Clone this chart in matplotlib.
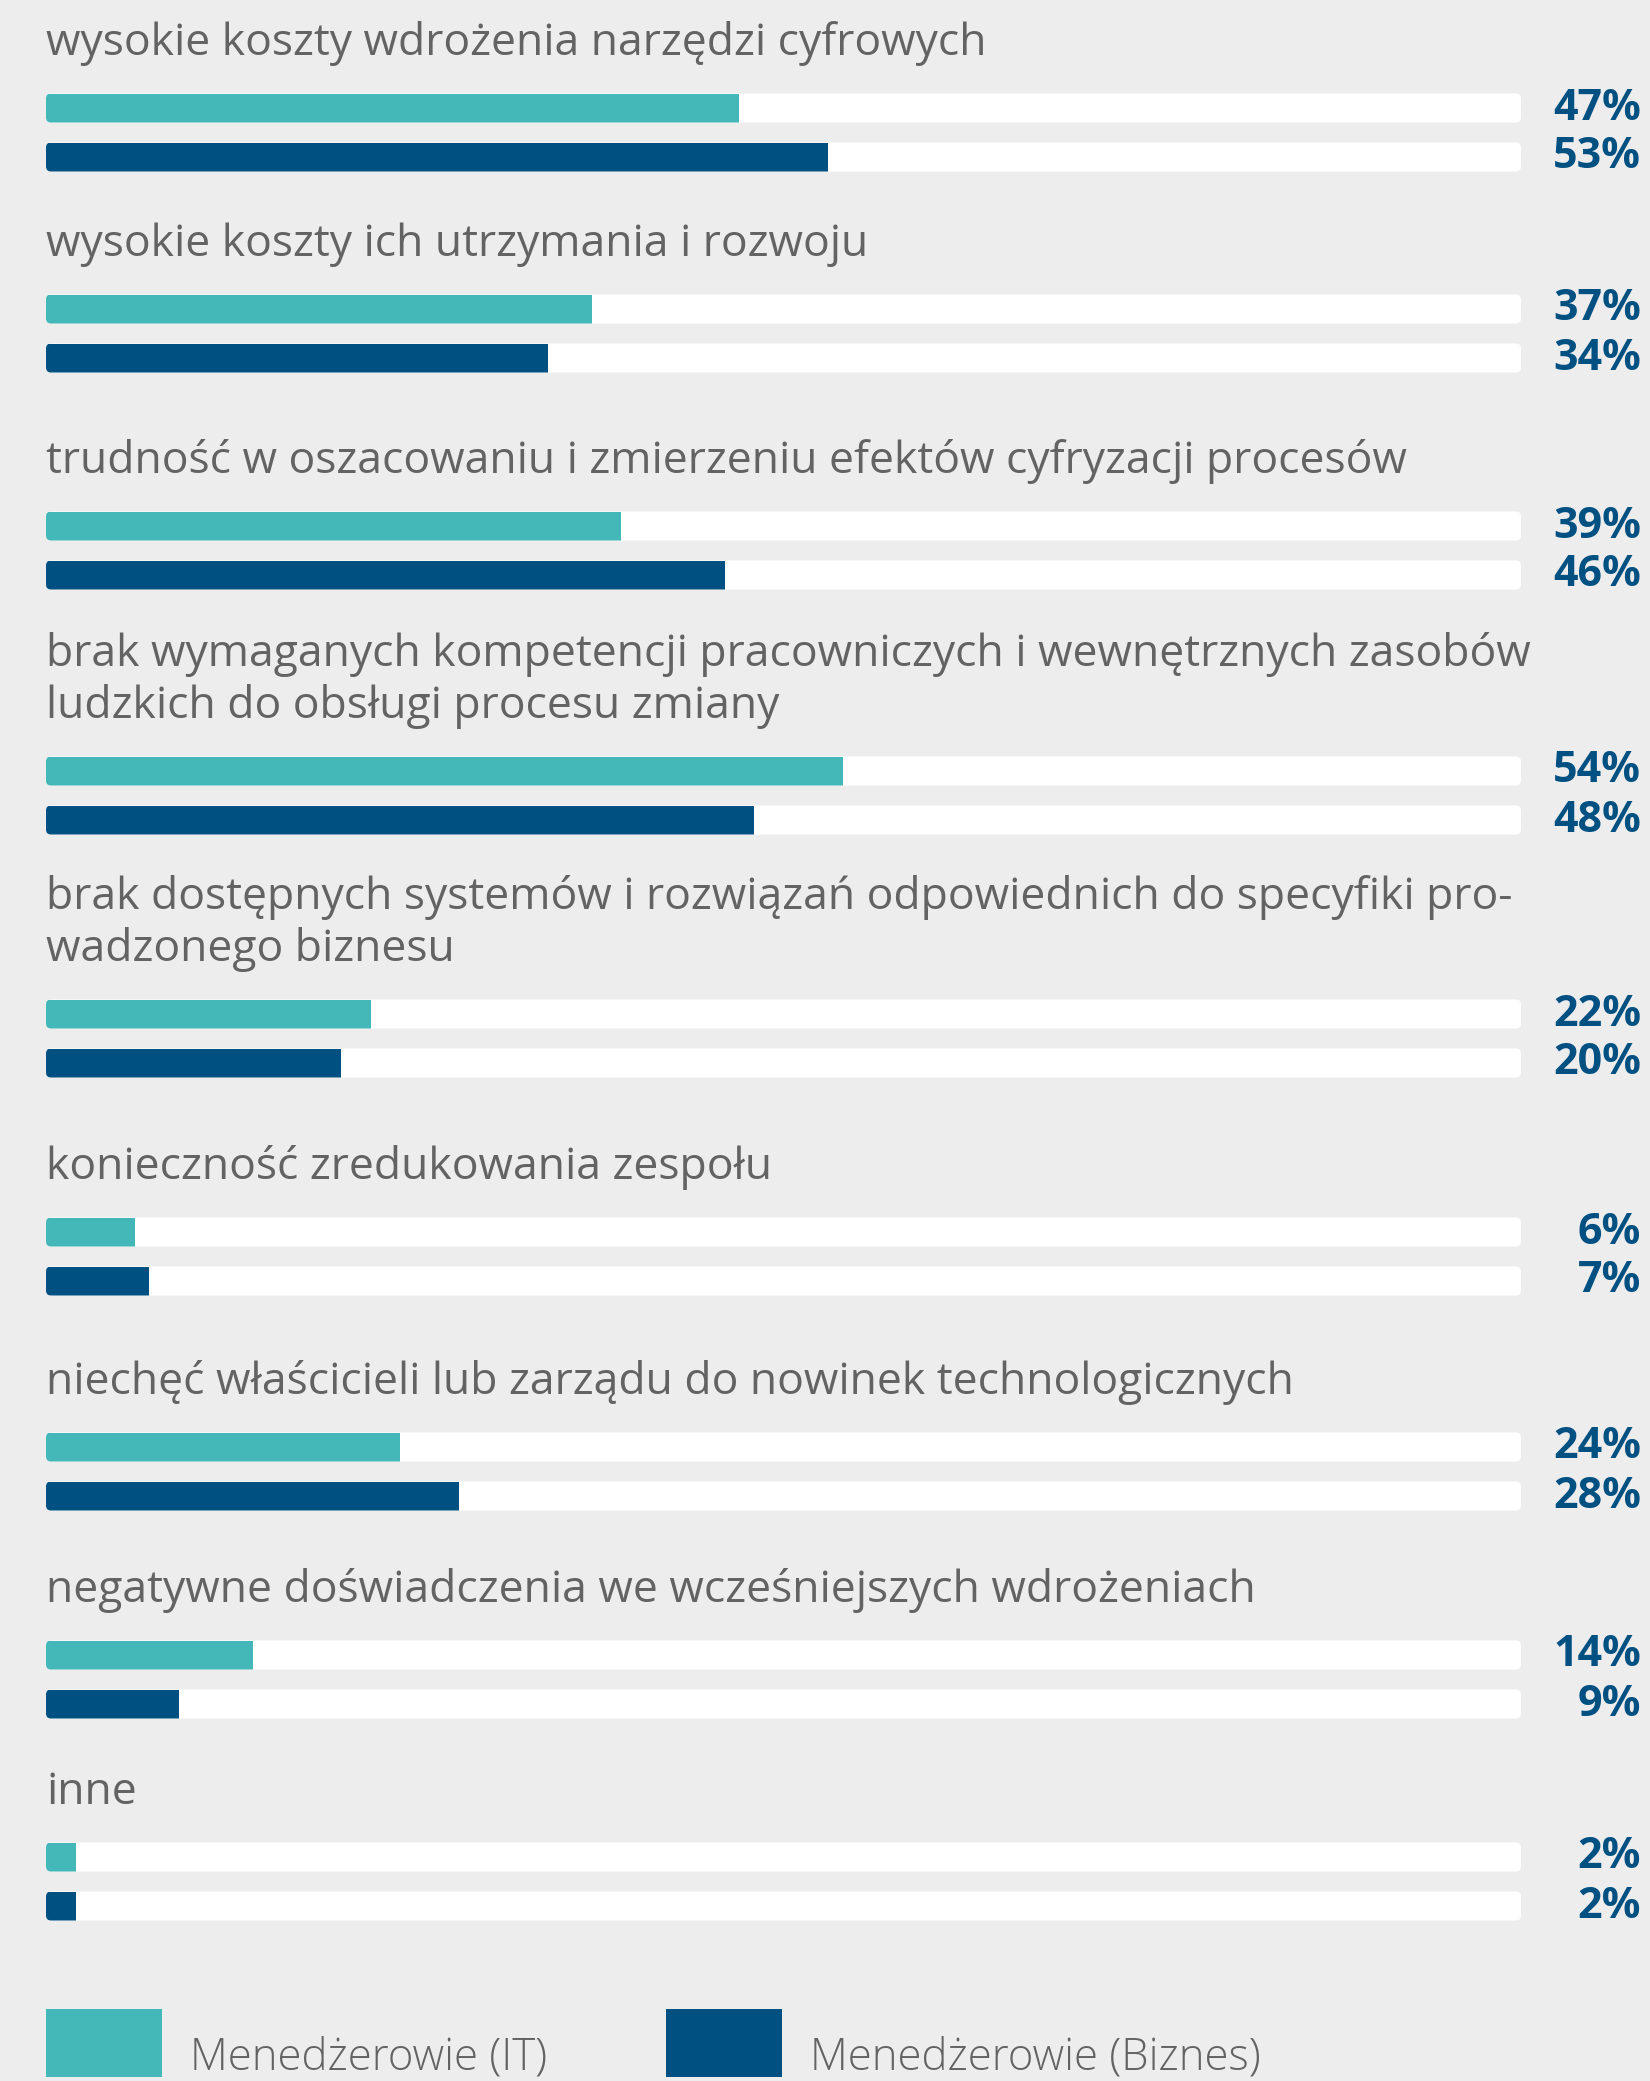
import matplotlib.pyplot as plt
from matplotlib.patches import FancyBboxPatch, Rectangle
from matplotlib.transforms import blended_transform_factory

plt.rcParams['font.family'] = ['Open Sans', 'DejaVu Sans']

# --- data ---
categories = [
    "wysokie koszty wdrożenia narzędzi cyfrowych",
    "wysokie koszty ich utrzymania i rozwoju",
    "trudność w oszacowaniu i zmierzeniu efektów cyfryzacji procesów",
    "brak wymaganych kompetencji pracowniczych i wewnętrznych zasobów\nludzkich do obsługi procesu zmiany",
    "brak dostępnych systemów i rozwiązań odpowiednich do specyfiki pro-\nwadzonego biznesu",
    "konieczność zredukowania zespołu",
    "niechęć właścicieli lub zarządu do nowinek technologicznych",
    "negatywne doświadczenia we wcześniejszych wdrożeniach",
    "inne",
]
it_values = [47, 37, 39, 54, 22, 6, 24, 14, 2]
biz_values = [53, 34, 46, 48, 20, 7, 28, 9, 2]
series_names = ["Menedżerowie (IT)", "Menedżerowie (Biznes)"]

TEAL = '#44b8b8'
NAVY = '#005082'
BG = '#ededed'
GREY = '#636363'

W, H = 1650, 2081
X0, XW = 46, 1475          # track left edge / width in px
fig = plt.figure(figsize=(W / 100, H / 100), dpi=100, facecolor=BG)
ax = fig.add_axes([X0 / W, 0, XW / W, 1])
ax.set_xlim(0, 100)
ax.set_ylim(H, 0)
ax.axis('off')

px_per_unit = XW / 100
bar_h = 29
pair_gap = 49
line_gap = 52

# layout: vertical distance between consecutive groups (px)
group_gaps = [201, 217, 245, 243, 218, 215, 208, 202]
centers = [108]
for g in group_gaps:
    centers.append(centers[-1] + g)

lab_tr = blended_transform_factory(fig.transFigure, ax.transData)

for i, cat in enumerate(categories):
    yc = centers[i]
    lines = cat.split('\n')
    for k, ln in enumerate(lines):
        ax.text(0, yc - 53 - line_gap * (len(lines) - 1 - k), ln, ha='left',
                va='baseline', fontsize=32, color=GREY)

    for j, (val, col) in enumerate([(it_values[i], TEAL), (biz_values[i], NAVY)]):
        yy = yc + j * pair_gap
        track = FancyBboxPatch((0, yy - bar_h / 2), 100, bar_h,
                               boxstyle="round,pad=0,rounding_size=%f" % (5 / px_per_unit),
                               mutation_aspect=px_per_unit,
                               facecolor='white', edgecolor='none')
        ax.add_patch(track)
        bar = ax.barh(yy, val, height=bar_h, left=0, color=col, edgecolor='none')
        bar[0].set_clip_path(track)
        ax.text(1641 / W, yy + 11.5, f"{val}%", transform=lab_tr, ha='right',
                va='baseline', fontsize=31, fontweight='bold', color=NAVY,
                clip_on=False)

# legend
for (x, col), name in zip([(46, TEAL), (666, NAVY)], series_names):
    fig.add_artist(Rectangle((x / W, 1 - 2077 / H), 116 / W, 68 / H,
                             transform=fig.transFigure, facecolor=col,
                             edgecolor='none'))
    fig.text((x + 144) / W, 1 - 2069 / H, name, ha='left', va='baseline',
             fontsize=31.5, fontweight='light', color=GREY)

fig.savefig('out.png', dpi=100, facecolor=BG)
